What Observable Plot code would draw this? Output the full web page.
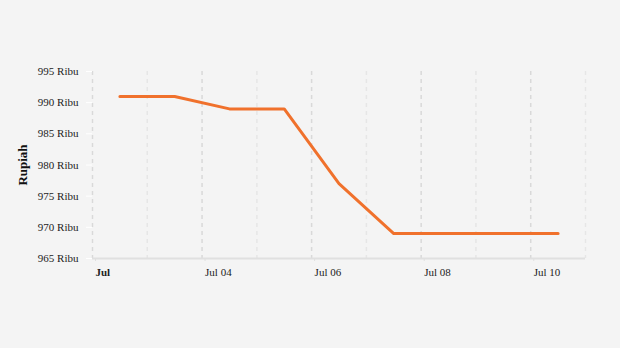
<!DOCTYPE html>
<html>
<head>
<meta charset="utf-8">
<script src="https://cdn.jsdelivr.net/npm/d3@7"></script>
<script src="https://cdn.jsdelivr.net/npm/@observablehq/plot@0.6"></script>
<style>
  html, body { margin: 0; padding: 0; background: #f4f4f4; }
  #chart { width: 620px; height: 348px; }
</style>
</head>
<body>
<div id="chart"></div>
<script>
const dates = ["2024-07-02T12:00Z","2024-07-03T12:00Z","2024-07-04T12:00Z","2024-07-05T12:00Z","2024-07-06T12:00Z","2024-07-07T12:00Z","2024-07-08T12:00Z","2024-07-09T12:00Z","2024-07-10T12:00Z"];
const prices = [991, 991, 989, 989, 977, 969, 969, 969, 969];
const yTicks = [965, 970, 975, 980, 985, 990, 995];
const gridDays = ["2024-07-02","2024-07-03","2024-07-04","2024-07-05","2024-07-06","2024-07-07","2024-07-08","2024-07-09","2024-07-10","2024-07-11"];
const xLabelDays = ["2024-07-04","2024-07-06","2024-07-08","2024-07-10"];
const firstLabelDay = "2024-07-02";

const data = dates.map((d, i) => ({date: new Date(d), price: prices[i]}));
const grid = gridDays.map((d, i) => ({date: new Date(d + "T00:00Z"), major: i % 2 === 0}));
const fmt = d3.utcFormat("%b %d");

const chart = Plot.plot({
  width: 620,
  height: 348,
  marginTop: 71,
  marginBottom: 90,
  marginLeft: 92,
  marginRight: 35,
  style: {background: "#f4f4f4", fontFamily: "'Liberation Serif', serif", fontSize: "11px", color: "#222"},
  x: {type: "utc", domain: [new Date(gridDays[0] + "T00:00Z"), new Date(gridDays[gridDays.length - 1] + "T00:00Z")]},
  y: {domain: [965, 995]},
  marks: [
    Plot.ruleX(grid.filter(d => !d.major), {x: "date", stroke: "#e6e6e6", strokeWidth: 1.5, strokeDasharray: "4,4"}),
    Plot.ruleX(grid.filter(d => d.major), {x: "date", stroke: "#d9d9d9", strokeWidth: 1.5, strokeDasharray: "4,4"}),
    Plot.ruleY([965], {stroke: "#e0e0e0", strokeWidth: 2}),
    Plot.axisY(yTicks, {tickSize: 6, tickPadding: 8, stroke: "#ffffff", tickFormat: d => d + " Ribu", label: null}),
    Plot.axisX(xLabelDays.map(d => new Date(d + "T00:00Z")), {tickSize: 3, stroke: "#e0e0e0", tickPadding: 7, textAnchor: "start", dx: 3, tickFormat: fmt, label: null}),
    Plot.axisX([new Date(firstLabelDay + "T00:00Z")], {tickSize: 3, stroke: "#e0e0e0", tickPadding: 7, textAnchor: "start", dx: 3, fontWeight: "bold", tickFormat: d => d3.utcFormat("%b")(d), label: null}),
    Plot.text(["Rupiah"], {frameAnchor: "left", dx: -70, rotate: -90, textAnchor: "middle", fontWeight: "bold", fontSize: 13, fill: "#111"}),
    Plot.line(data, {x: "date", y: "price", stroke: "#f0712c", strokeWidth: 3})
  ]
});
document.getElementById("chart").append(chart);
</script>
</body>
</html>
